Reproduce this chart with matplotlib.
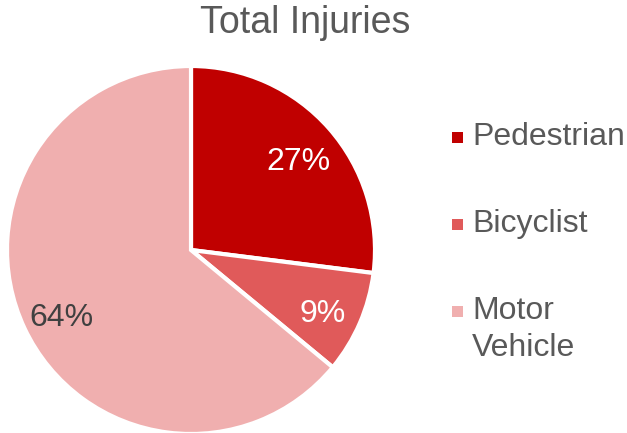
import matplotlib.pyplot as plt
import matplotlib.transforms as mtransforms
from matplotlib.patches import Rectangle

plt.rcParams['font.family'] = ['Liberation Sans', 'DejaVu Sans']

# Data
categories = ["Pedestrian", "Bicyclist", "Motor\nVehicle"]
shares = [27, 9, 64]
colors = ["#C00000", "#E05A5A", "#F0AFAF"]
label_colors = ["white", "white", "#404040"]
text_gray = "#595959"

W, H = 627, 433
fig = plt.figure(figsize=(W / 100, H / 100), dpi=100)

# pie axes: centre ~(191, 250) px, radius ~184 px
cx, cy, r = 191, 250, 184
ax = fig.add_axes([(cx - r) / W, (H - cy - r) / H, 2 * r / W, 2 * r / H])

wedges, texts, autotexts = ax.pie(
    shares,
    colors=colors,
    startangle=90,
    counterclock=False,
    autopct="%d%%",
    pctdistance=0.78,
    radius=1.0,
    wedgeprops=dict(edgecolor="white", linewidth=3),
    textprops=dict(fontsize=23),
)
# nudge the percentage labels down a touch, like the original
nudge = mtransforms.ScaledTranslation(0, -5 / 72, fig.dpi_scale_trans)
for t, c in zip(autotexts, label_colors):
    t.set_color(c)
    t.set_transform(t.get_transform() + nudge)
ax.set_xlim(-1, 1)
ax.set_ylim(-1, 1)
ax.set_aspect("equal")

fig.text(305 / W, 1 - 23 / H, "Total Injuries", ha="center", va="center",
         fontsize=27, color=text_gray)

# legend drawn by hand so the marker sits on the first line of a wrapped label
leg_x, leg_y0, row_step, line_step = 452, 137, 87, 37
for i, (cat, c) in enumerate(zip(categories, colors)):
    y = leg_y0 + i * row_step
    fig.patches.append(Rectangle((leg_x / W, 1 - (y + 5.5) / H), 11 / W, 11 / H,
                                 transform=fig.transFigure, facecolor=c,
                                 edgecolor="none"))
    for j, line in enumerate(cat.split("\n")):
        fig.text((leg_x + 20) / W, 1 - (y + j * line_step) / H, line,
                 ha="left", va="center", fontsize=23, color=text_gray)

fig.savefig("out.png", dpi=100)
